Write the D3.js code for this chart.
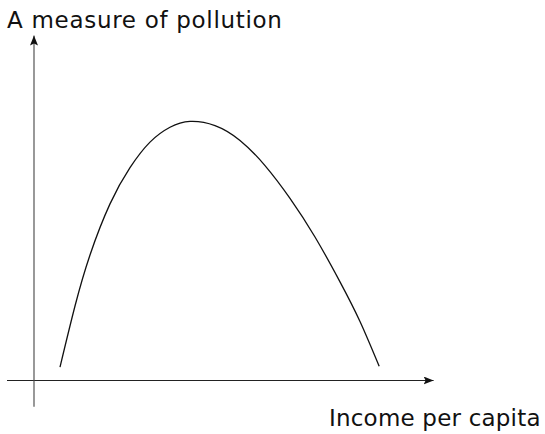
<!DOCTYPE html>
<html lang="en">
<head>
<meta charset="utf-8">
<title>pollution vs income</title>
<style>
  body { margin: 0; padding: 0; background: white; }
  text { font-family: "DejaVu Sans", sans-serif; font-size: 23px; fill: #111; }
</style>
<script src="https://d3js.org/d3.v7.min.js"></script>
</head>
<body>
<div id="root"></div>
<script>
// income (x) and pollution (y), arbitrary units 0..100
var income    = [6.5, 10.25, 14.0, 19.0, 24.0, 29.0, 34.0, 39.0, 45.25, 51.5, 57.75, 64.0, 70.25, 76.5, 81.5, 86.3];
var pollution = [3.9, 21.6, 36.4, 51.2, 61.7, 69.1, 73.4, 75.1, 73.9, 69.6, 62.3, 52.8, 41.6, 28.6, 17.1, 4.1];

var xLabel = "Income per capita";
var yLabel = "A measure of pollution";

var width = 545, height = 434;

var svg = d3.select("#root")
  .append("svg")
  .attr("width", width)
  .attr("height", height);

var x = d3.scaleLinear().domain([0, 100]).range([34, 434]);
var y = d3.scaleLinear().domain([0, 100]).range([380.5, 35.5]);

// arrow heads
var defs = svg.append("defs");
defs.append("marker")
    .attr("id", "arrow")
    .attr("viewBox", "0 0 10 8")
    .attr("refX", 10)
    .attr("refY", 4)
    .attr("markerWidth", 10)
    .attr("markerHeight", 8)
    .attr("markerUnits", "userSpaceOnUse")
    .attr("orient", "auto")
  .append("path")
    .attr("d", "M0,0 L10,4 L0,8 L2,4 Z")
    .attr("fill", "#111");

// x axis
svg.append("line")
    .attr("x1", x(-6.75)).attr("y1", y(0))
    .attr("x2", x(99.9)).attr("y2", y(0))
    .attr("stroke", "#222")
    .attr("stroke-width", 1.1)
    .attr("marker-end", "url(#arrow)");

// y axis
svg.append("line")
    .attr("x1", x(0)).attr("y1", y(-7.6))
    .attr("x2", x(0)).attr("y2", y(100))
    .attr("stroke", "#444")
    .attr("stroke-width", 1.1)
    .attr("marker-end", "url(#arrow)");

var line = d3.line()
    .x(function(d) { return x(d[0]); })
    .y(function(d) { return y(d[1]); })
    .curve(d3.curveNatural);

svg.append("path")
    .datum(d3.zip(income, pollution))
    .attr("fill", "none")
    .attr("stroke", "#111")
    .attr("stroke-width", 1.3)
    .attr("d", line);

svg.append("text")
    .attr("x", 7)
    .attr("y", 28)
    .style("letter-spacing", "0.7px")
    .text(yLabel);

svg.append("text")
    .attr("x", 329)
    .attr("y", 426)
    .style("letter-spacing", "0.2px")
    .text(xLabel);
</script>
</body>
</html>
